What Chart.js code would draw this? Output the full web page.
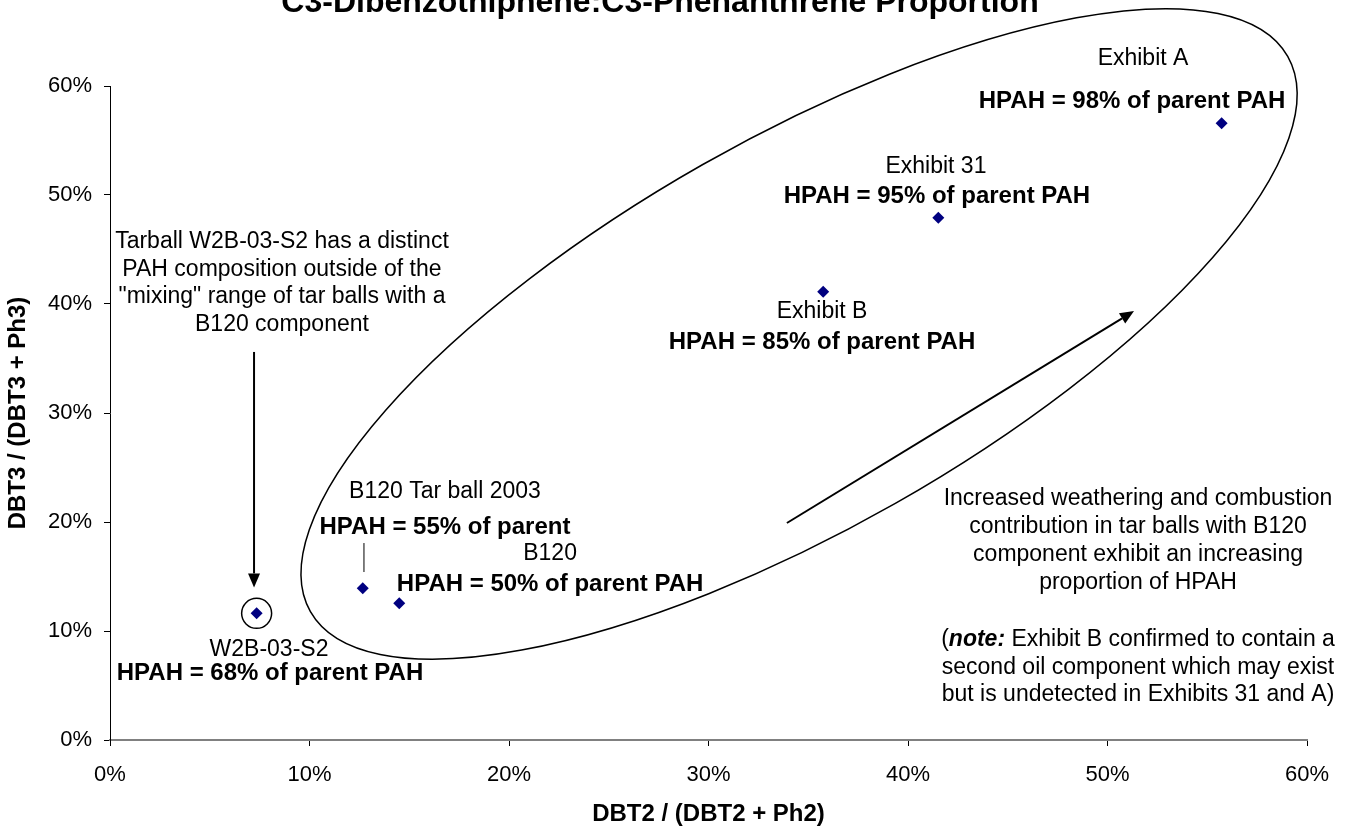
<!DOCTYPE html>
<html>
<head>
<meta charset="utf-8">
<title>C3-Dibenzothiphene:C3-Phenanthrene Proportion</title>
<script src="https://cdn.jsdelivr.net/npm/chart.js@4.4.1/dist/chart.umd.min.js"></script>
<style>
  html, body { margin: 0; padding: 0; background: #fff; }
</style>
</head>
<body>
<canvas id="chart" width="1348" height="829"></canvas>
<script>
// --- data (fractions) ---
const sampleNames = ['W2B-03-S2', 'B120 Tar ball 2003', 'B120', 'Exhibit B', 'Exhibit 31', 'Exhibit A'];
const dbt2Ratio = [0.0735, 0.1267, 0.1450, 0.3575, 0.4152, 0.5572];
const dbt3Ratio = [0.1162, 0.1392, 0.1254, 0.4113, 0.4792, 0.5658];
const tickValues = [0, 0.1, 0.2, 0.3, 0.4, 0.5, 0.6];

const FONT = "'Liberation Sans', Arial, sans-serif";

// labels next to the points (data units)
const pointNotes = [
  { text: 'Exhibit A', x: 0.5178, y: 0.6248, bold: false },
  { text: 'HPAH = 98% of parent PAH', x: 0.5123, y: 0.5862, bold: true },
  { text: 'Exhibit 31', x: 0.4140, y: 0.5257, bold: false },
  { text: 'HPAH = 95% of parent PAH', x: 0.4145, y: 0.4991, bold: true },
  { text: 'Exhibit B', x: 0.3569, y: 0.3927, bold: false },
  { text: 'HPAH = 85% of parent PAH', x: 0.3569, y: 0.3652, bold: true },
  { text: 'B120 Tar ball 2003', x: 0.1679, y: 0.2275, bold: false },
  { text: 'HPAH = 55% of parent', x: 0.1679, y: 0.1954, bold: true },
  { text: 'B120', x: 0.2206, y: 0.1706, bold: false },
  { text: 'HPAH = 50% of parent PAH', x: 0.2206, y: 0.1431, bold: true },
  { text: 'W2B-03-S2', x: 0.0797, y: 0.0826, bold: false },
  { text: 'HPAH = 68% of parent PAH', x: 0.0802, y: 0.0615, bold: true }
];

const leftBlock = ['Tarball W2B-03-S2 has a distinct', 'PAH composition outside of the',
  '"mixing" range of tar balls with a', 'B120 component'];
const rightBlock = ['Increased weathering and combustion', 'contribution in tar balls with B120',
  'component exhibit an increasing', 'proportion of HPAH'];
const noteBlock = [' Exhibit B confirmed to contain a', 'second oil component which may exist',
  'but is undetected in Exhibits 31 and A)'];

// shapes (data units, radii in x-axis units)
const mixEllipse = { cx: 0.3454, cy: 0.3725, rx: 0.2817, ry: 0.0977, angle: -29.6 };
const trendArrow = { x1: 0.3393, y1: 0.1991, x2: 0.5133, y2: 0.3936 };
const downArrow = { x1: 0.0722, y1: 0.3560, x2: 0.0722, y2: 0.1400 };
const leaderLine = { x: 0.1273, y1: 0.1807, y2: 0.1541 };

function drawArrow(ctx, x1, y1, x2, y2) {
  const ang = Math.atan2(y2 - y1, x2 - x1);
  const head = 14, half = 6;
  const bx = x2 - head * Math.cos(ang), by = y2 - head * Math.sin(ang);
  ctx.lineWidth = 2;
  ctx.beginPath(); ctx.moveTo(x1, y1); ctx.lineTo(bx, by); ctx.stroke();
  ctx.beginPath();
  ctx.moveTo(x2, y2);
  ctx.lineTo(bx + half * Math.sin(ang), by - half * Math.cos(ang));
  ctx.lineTo(bx - half * Math.sin(ang), by + half * Math.cos(ang));
  ctx.closePath(); ctx.fill();
}

const overlay = {
  id: 'overlay',
  afterDatasetsDraw(chart) {
    const ctx = chart.ctx;
    const xs = chart.scales.x, ys = chart.scales.y;
    const px = v => xs.getPixelForValue(v);
    const py = v => ys.getPixelForValue(v);
    const unit = px(1) - px(0);
    ctx.save();
    ctx.strokeStyle = '#000';
    ctx.fillStyle = '#000';

    // big mixing ellipse
    ctx.lineWidth = 1.5;
    ctx.beginPath();
    ctx.ellipse(px(mixEllipse.cx), py(mixEllipse.cy), mixEllipse.rx * unit, mixEllipse.ry * unit,
      mixEllipse.angle * Math.PI / 180, 0, Math.PI * 2);
    ctx.stroke();

    // circle round the odd tar ball
    ctx.beginPath();
    ctx.arc(px(dbt2Ratio[0]), py(dbt3Ratio[0]), 15, 0, Math.PI * 2);
    ctx.stroke();

    // leader line under "HPAH = 55%"
    ctx.lineWidth = 1;
    ctx.beginPath();
    ctx.moveTo(px(leaderLine.x), py(leaderLine.y1));
    ctx.lineTo(px(leaderLine.x), py(leaderLine.y2));
    ctx.stroke();

    drawArrow(ctx, px(trendArrow.x1), py(trendArrow.y1), px(trendArrow.x2), py(trendArrow.y2));
    drawArrow(ctx, px(downArrow.x1), py(downArrow.y1), px(downArrow.x2), py(downArrow.y2));

    // texts
    ctx.textAlign = 'center';
    ctx.textBaseline = 'middle';
    pointNotes.forEach(n => {
      ctx.font = (n.bold ? 'bold 24px ' : '23px ') + FONT;
      ctx.fillText(n.text, px(n.x), py(n.y));
    });

    ctx.font = '23px ' + FONT;
    leftBlock.forEach((t, i) => ctx.fillText(t, px(0.0862), py(0.4569) + i * 27.5));
    rightBlock.forEach((t, i) => ctx.fillText(t, px(0.5153), py(0.2210) + i * 28));

    // note block, first line has a bold italic word
    const nx = px(0.5153), ny = py(0.0920);
    ctx.font = '23px ' + FONT;
    const wOpen = ctx.measureText('(').width;
    const wRest = ctx.measureText(noteBlock[0]).width;
    ctx.font = 'italic bold 23px ' + FONT;
    const wNote = ctx.measureText('note:').width;
    let sx = nx - (wOpen + wNote + wRest) / 2;
    ctx.textAlign = 'left';
    ctx.font = '23px ' + FONT;
    ctx.fillText('(', sx, ny);
    ctx.font = 'italic bold 23px ' + FONT;
    ctx.fillText('note:', sx + wOpen, ny);
    ctx.font = '23px ' + FONT;
    ctx.fillText(noteBlock[0], sx + wOpen + wNote, ny);
    ctx.textAlign = 'center';
    for (let i = 1; i < noteBlock.length; i++) ctx.fillText(noteBlock[i], nx, ny + i * 27.5);

    ctx.restore();
  },
  afterDraw(chart) {
    const ctx = chart.ctx;
    ctx.save();
    ctx.font = 'bold 32px ' + FONT;
    ctx.fillStyle = '#000';
    ctx.textAlign = 'center';
    ctx.textBaseline = 'alphabetic';
    ctx.fillText('C3-Dibenzothiphene:C3-Phenanthrene Proportion', 660, 12);
    ctx.restore();
  }
};

const pct = v => Math.round(v * 100) + '%';

new Chart(document.getElementById('chart'), {
  type: 'scatter',
  data: {
    datasets: [{
      label: 'samples',
      data: sampleNames.map((n, i) => ({ x: dbt2Ratio[i], y: dbt3Ratio[i] })),
      pointStyle: 'rectRot',
      pointRadius: 6,
      pointBackgroundColor: '#000080',
      pointBorderColor: '#000080',
      pointBorderWidth: 0
    }]
  },
  options: {
    responsive: false,
    animation: false,
    events: [],
    layout: { padding: { top: 86, right: 41, left: 0, bottom: 0 } },
    plugins: { legend: { display: false }, tooltip: { enabled: false }, title: { display: false } },
    scales: {
      x: {
        type: 'linear', min: 0, max: 0.6,
        afterBuildTicks: s => { s.ticks = tickValues.map(v => ({ value: v })); },
        afterFit: s => { s.height = 89; },
        ticks: { callback: pct, color: '#000', font: { family: FONT, size: 22 }, padding: 16, maxRotation: 0 },
        grid: { drawOnChartArea: false, tickLength: 6, color: '#000' },
        border: { color: '#808080', width: 2 },
        title: { display: true, text: 'DBT2 / (DBT2 + Ph2)', color: '#000',
          font: { family: FONT, size: 24, weight: 'bold' }, padding: { top: 0, bottom: 0 } }
      },
      y: {
        type: 'linear', min: 0, max: 0.6,
        afterBuildTicks: s => { s.ticks = tickValues.map(v => ({ value: v })); },
        afterFit: s => { s.width = 110; },
        ticks: { callback: pct, color: '#000', font: { family: FONT, size: 22 }, padding: 12 },
        grid: { drawOnChartArea: false, tickLength: 6, color: '#000' },
        border: { color: '#000', width: 1 },
        title: { display: true, text: 'DBT3 / (DBT3 + Ph3)', color: '#000',
          font: { family: FONT, size: 24, weight: 'bold' }, padding: { top: 4, bottom: 0 } }
      }
    }
  },
  plugins: [overlay]
});
</script>
</body>
</html>
